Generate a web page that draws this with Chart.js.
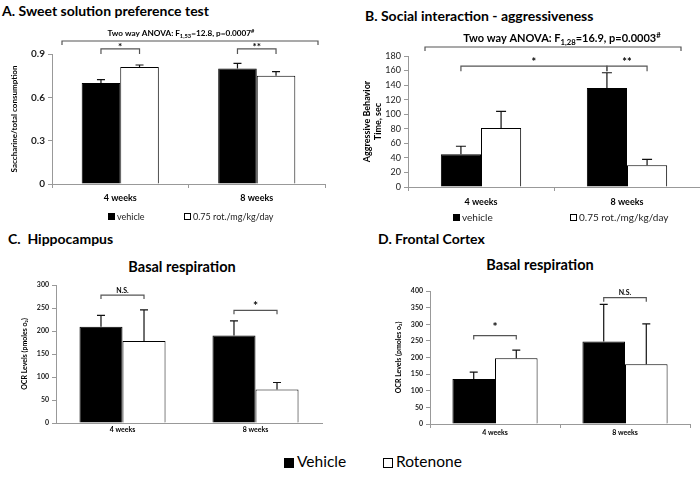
<!DOCTYPE html>
<html>
<head>
<meta charset="utf-8">
<script src="https://cdn.jsdelivr.net/npm/chart.js@4.4.1/dist/chart.umd.min.js"></script>
<style>
  body { margin: 0; background: #fff; }
  #wrap { position: relative; width: 700px; height: 477px; font-family: Lato, sans-serif; color: #000; }
  canvas { position: absolute; }
  .title { position: absolute; font-weight: bold; font-size: 14px; white-space: nowrap; }
  .sub { position: absolute; font-weight: bold; font-size: 14.5px; white-space: nowrap; transform: translateX(-50%); }
  .leg { position: absolute; font-size: 15.5px; white-space: nowrap; }
  .sleg { position: absolute; font-size: 9px; white-space: nowrap; color: #222; }
  .sq { display: inline-block; width: 10px; height: 10px; border: 1px solid #000; box-sizing: border-box; margin-right: 3px; vertical-align: -1px; }
  .ssq { display: inline-block; width: 7px; height: 7px; border: 1px solid #000; box-sizing: border-box; margin-right: 2px; vertical-align: 0; }
</style>
</head>
<body>
<div id="wrap">
  <div class="title" style="left:2px;top:2px">A. Sweet solution preference test</div>
  <div class="title" style="left:365px;top:7px">B. Social interaction - aggressiveness</div>
  <div class="title" style="left:8px;top:230px">C.&nbsp; Hippocampus</div>
  <div class="title" style="left:378px;top:230px">D. Frontal Cortex</div>
  <div class="sub" style="left:182px;top:258px">Basal respiration</div>
  <div class="sub" style="left:540px;top:256px">Basal respiration</div>
  <canvas id="chartA" width="345" height="214" style="left:0;top:0"></canvas>
  <canvas id="chartB" width="350" height="217" style="left:350px;top:0"></canvas>
  <canvas id="chartC" width="345" height="203" style="left:0;top:240px"></canvas>
  <canvas id="chartD" width="350" height="204" style="left:350px;top:240px"></canvas>
  <div class="sleg" style="left:108px;top:211px"><span class="ssq" style="background:#000"></span>vehicle</div>
  <div class="sleg" style="left:184px;top:211px"><span class="ssq" style="background:#fff"></span>0.75 rot./mg/kg/day</div>
  <div class="sleg" style="left:453px;top:211px;font-size:10px"><span class="ssq" style="background:#000"></span>vehicle</div>
  <div class="sleg" style="left:570px;top:211px;font-size:10px"><span class="ssq" style="background:#fff"></span>0.75 rot./mg/kg/day</div>
  <div class="leg" style="left:284px;top:452px"><span class="sq" style="background:#000"></span>Vehicle</div>
  <div class="leg" style="left:383px;top:452px"><span class="sq" style="background:#fff"></span>Rotenone</div>
</div>
<script>
const weeks = ['4 weeks', '8 weeks'];

// A. sweet solution preference
const sweetVehicle = [0.70, 0.80];
const sweetVehicleErr = [0.022, 0.035];
const sweetRot = [0.81, 0.75];
const sweetRotErr = [0.014, 0.028];
const sweetTicks = [0, 0.3, 0.6, 0.9];

// B. aggressiveness
const aggVehicle = [45, 136];
const aggVehicleErr = [11, 21];
const aggRot = [81, 30];
const aggRotErr = [23, 8];

// C. hippocampus basal respiration
const hipVehicle = [209, 190];
const hipVehicleErr = [25, 32];
const hipRot = [178, 73];
const hipRotErr = [68, 15];

// D. frontal cortex basal respiration
const fcVehicle = [135, 248];
const fcVehicleErr = [21, 112];
const fcRot = [198, 180];
const fcRotErr = [24, 121];

const FONT = 'Lato, sans-serif';
const extrasById = {};

// draw text made of normal / sub / sup parts, centred on cx
function richText(ctx, parts, cx, y, size) {
  const fnt = s => 'bold ' + s + 'px ' + FONT;
  const widths = parts.map(p => {
    ctx.font = fnt(p.s ? size * 0.7 : size);
    return ctx.measureText(p.t).width;
  });
  let x = cx - widths.reduce((a, b) => a + b, 0) / 2;
  ctx.textAlign = 'left';
  ctx.textBaseline = 'alphabetic';
  parts.forEach((p, i) => {
    ctx.font = fnt(p.s ? size * 0.7 : size);
    const dy = p.s === 'sub' ? size * 0.25 : p.s === 'sup' ? -size * 0.4 : 0;
    ctx.fillText(p.t, x, y + dy);
    x += widths[i];
  });
}

function bracketPath(ctx, x1, x2, y, drop) {
  ctx.beginPath();
  ctx.moveTo(x1, y + drop);
  ctx.lineTo(x1, y);
  ctx.lineTo(x2, y);
  ctx.lineTo(x2, y + drop);
  ctx.stroke();
}

const extras = {
  id: 'extras',
  afterDatasetsDraw(chart) {
    const ctx = chart.ctx;
    const ys = chart.scales.y;
    const o = extrasById[chart.canvas.id];
    if (!o) return;
    ctx.save();
    // error bars, upward only
    chart.data.datasets.forEach((ds, di) => {
      chart.getDatasetMeta(di).data.forEach((bar, i) => {
        const top = ys.getPixelForValue(ds.data[i] + ds.errors[i]);
        ctx.strokeStyle = '#111';
        ctx.lineWidth = 1.2;
        ctx.beginPath();
        ctx.moveTo(bar.x, bar.y);
        ctx.lineTo(bar.x, top);
        ctx.moveTo(bar.x - o.cap, top);
        ctx.lineTo(bar.x + o.cap, top);
        ctx.stroke();
      });
    });
    // significance brackets
    ctx.strokeStyle = '#555';
    ctx.lineWidth = 1.2;
    ctx.fillStyle = '#000';
    o.brackets.forEach(b => {
      const x1 = chart.getDatasetMeta(b.from[1]).data[b.from[0]].x;
      const x2 = chart.getDatasetMeta(b.to[1]).data[b.to[0]].x;
      const y = ys.getPixelForValue(b.at);
      bracketPath(ctx, x1, x2, y, o.drop);
      ctx.font = 'bold ' + b.size + 'px ' + FONT;
      ctx.textAlign = 'center';
      ctx.textBaseline = 'bottom';
      ctx.fillText(b.text, (x1 + x2) / 2, y - 1 + (b.shift || 0));
    });
    // two way ANOVA bracket
    if (o.anova) {
      const a = o.anova;
      const ca = chart.chartArea;
      const x1 = ca.left + a.l, x2 = ca.right - a.r;
      bracketPath(ctx, x1, x2, a.y, 4);
      ctx.fillStyle = '#000';
      richText(ctx, a.parts, (x1 + x2) / 2 + a.dx, a.y - 5, a.size);
    }
    ctx.restore();
  }
};

function barSet(label, data, errors, color, pct) {
  return {
    label: label,
    data: data,
    errors: errors,
    backgroundColor: color,
    borderColor: '#000',
    borderWidth: 1,
    categoryPercentage: pct,
    barPercentage: 1
  };
}

function makeChart(id, cfg) {
  extrasById[id] = cfg.extras;
  const yScale = {
    min: 0, max: cfg.max,
    afterFit: ax => { ax.width = cfg.yWidth; },
    grid: { drawOnChartArea: false, drawTicks: true, tickLength: 4, color: '#999' },
    border: { color: '#999' },
    ticks: { stepSize: cfg.step, color: '#222', font: { family: FONT, size: cfg.ySize, weight: cfg.yWeight }, padding: 3 },
    title: { display: true, text: cfg.yTitle, color: '#000', font: { family: FONT, size: cfg.yTitleSize, weight: 'bold' }, padding: cfg.yTitlePad }
  };
  if (cfg.tickList) {
    yScale.afterBuildTicks = ax => { ax.ticks = cfg.tickList.map(v => ({ value: v })); };
  }
  return new Chart(document.getElementById(id), {
    type: 'bar',
    data: {
      labels: weeks,
      datasets: [
        barSet(cfg.names[0], cfg.vehicle, cfg.vehicleErr, '#000', cfg.pct),
        barSet(cfg.names[1], cfg.rot, cfg.rotErr, '#fff', cfg.pct)
      ]
    },
    options: {
      responsive: false,
      animation: false,
      devicePixelRatio: 1,
      layout: { padding: cfg.padding },
      plugins: {
        tooltip: { enabled: false },
        legend: { display: false }
      },
      scales: {
        x: {
          afterFit: ax => { ax.height = cfg.xHeight; },
          grid: { offset: true, drawOnChartArea: false, drawTicks: cfg.xTicks, tickLength: 4, color: '#999' },
          border: { color: '#999' },
          ticks: { color: '#000', font: { family: FONT, size: cfg.xSize, weight: 'bold' }, padding: cfg.xPad }
        },
        y: yScale
      }
    },
    plugins: [extras]
  });
}

makeChart('chartA', {
  names: ['vehicle', '0.75 rot./mg/kg/day'],
  vehicle: sweetVehicle, vehicleErr: sweetVehicleErr, rot: sweetRot, rotErr: sweetRotErr,
  pct: 0.565, max: 0.9, tickList: sweetTicks,
  padding: { top: 54, right: 20, left: 4, bottom: 0 }, yWidth: 48, xHeight: 30, xTicks: true,
  xSize: 9, xPad: 5, ySize: 10, yWeight: 'bold', yTitle: 'Saccharine/total consumption', yTitleSize: 8, yTitlePad: 6,
  extras: {
    cap: 4, drop: 5,
    brackets: [
      { from: [0, 0], to: [0, 1], at: 0.935, text: '*', size: 10, shift: 4 },
      { from: [1, 0], to: [1, 1], at: 0.935, text: '**', size: 10, shift: 4 }
    ],
    anova: {
      l: 10, r: 7, y: 41, dx: -9, size: 8.2,
      parts: [{ t: 'Two way ANOVA: F' }, { t: '1,53', s: 'sub' }, { t: '=12.8, p=0.0007' }, { t: '#', s: 'sup' }]
    }
  }
});

makeChart('chartB', {
  names: ['vehicle', '0.75 rot./mg/kg/day'],
  vehicle: aggVehicle, vehicleErr: aggVehicleErr, rot: aggRot, rotErr: aggRotErr,
  pct: 0.55, max: 180, step: 20,
  padding: { top: 56, right: 0, left: 8, bottom: 0 }, yWidth: 50, xHeight: 30, xTicks: true,
  xSize: 9, xPad: 6, ySize: 9, yWeight: 'normal', yTitle: ['Aggressive Behavior', 'Time, sec'], yTitleSize: 9, yTitlePad: 4,
  extras: {
    cap: 5, drop: 5,
    brackets: [
      { from: [0, 0], to: [1, 0], at: 166, text: '*', size: 11, shift: 3 },
      { from: [1, 0], to: [1, 1], at: 166, text: '**', size: 11, shift: 3 }
    ],
    anova: {
      l: 17, r: 19, y: 47, dx: 9, size: 11,
      parts: [{ t: 'Two way ANOVA: F' }, { t: '1,28', s: 'sub' }, { t: '=16.9, p=0.0003' }, { t: '#', s: 'sup' }]
    }
  }
});

makeChart('chartC', {
  names: ['Vehicle', 'Rotenone'],
  vehicle: hipVehicle, vehicleErr: hipVehicleErr, rot: hipRot, rotErr: hipRotErr,
  pct: 0.647, max: 300, step: 50,
  padding: { top: 45, right: 23, left: 17, bottom: 0 }, yWidth: 39, xHeight: 20, xTicks: false,
  xSize: 7, xPad: 3, ySize: 7, yWeight: 'bold', yTitle: 'OCR Levels (pmoles o₂)', yTitleSize: 7, yTitlePad: 4,
  extras: {
    cap: 4, drop: 4,
    brackets: [
      { from: [0, 0], to: [0, 1], at: 278, text: 'N.S.', size: 7 },
      { from: [1, 0], to: [1, 1], at: 245, text: '*', size: 12, shift: 3 }
    ]
  }
});

makeChart('chartD', {
  names: ['Vehicle', 'Rotenone'],
  vehicle: fcVehicle, vehicleErr: fcVehicleErr, rot: fcRot, rotErr: fcRotErr,
  pct: 0.655, max: 400, step: 50,
  padding: { top: 51, right: 10, left: 41, bottom: 0 }, yWidth: 39, xHeight: 20, xTicks: true,
  xSize: 7, xPad: 1, ySize: 7, yWeight: 'bold', yTitle: 'OCR Levels (pmoles o₂)', yTitleSize: 7, yTitlePad: 4,
  extras: {
    cap: 4, drop: 4,
    brackets: [
      { from: [0, 0], to: [0, 1], at: 266, text: '*', size: 12, shift: -1 },
      { from: [1, 0], to: [1, 1], at: 380, text: 'N.S.', size: 7 }
    ]
  }
});
</script>
</body>
</html>
